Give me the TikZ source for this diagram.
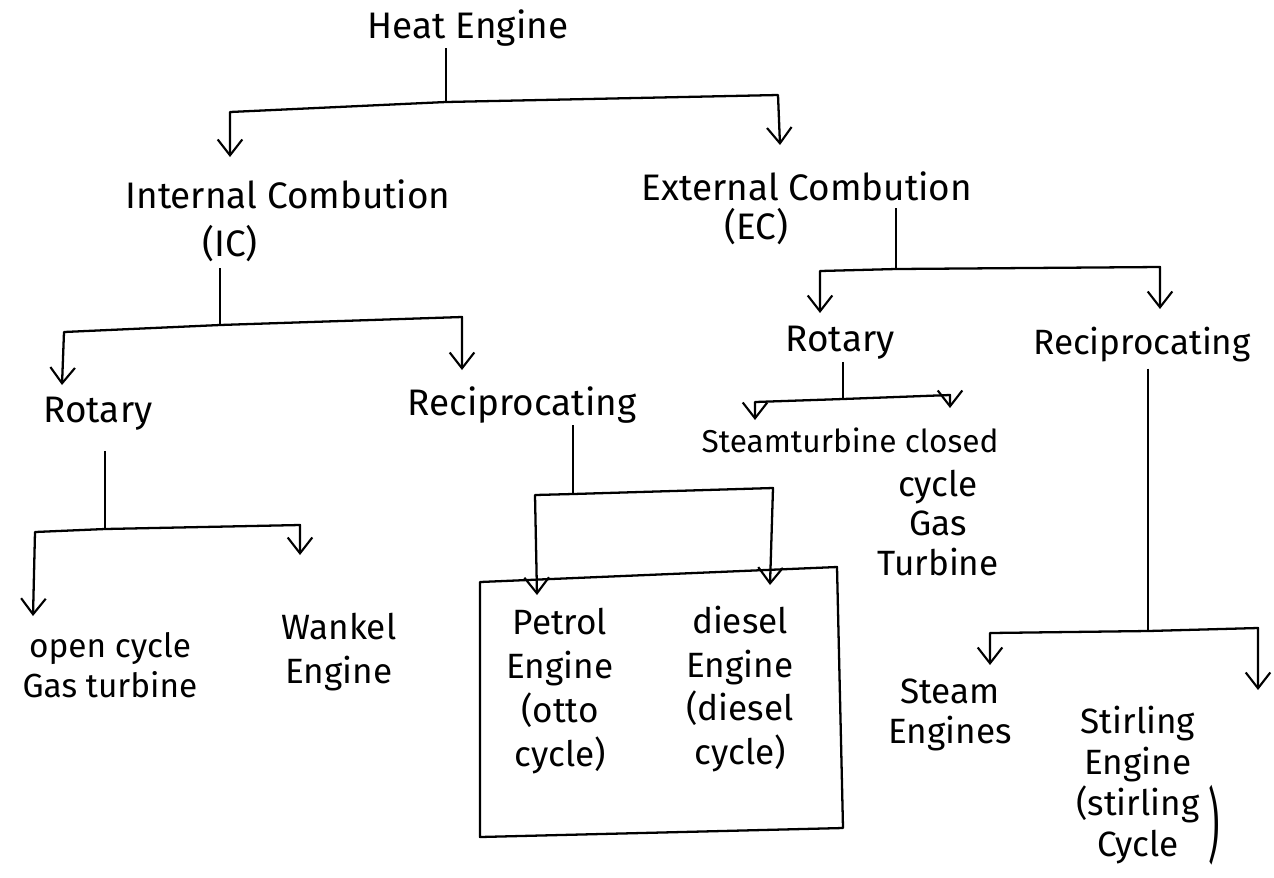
\documentclass[tikz,border=0pt]{standalone}
\usepackage{fontspec}
\setmainfont{Fira Sans}
\usetikzlibrary{arrows.meta}
\begin{document}
\begin{tikzpicture}[x=0.02cm,y=-0.02cm,
  ln/.style={line width=1.3pt,line join=round},
  arr/.style={ln,-{Straight Barb[length=9pt,width=14pt,line width=1.2pt]}},
  txt/.style={font=\fontsize{21}{22}\selectfont,align=center,inner sep=1pt}]
\useasboundingbox (0,0) rectangle (1274,877);
% texts
\node[txt] (he) at (468,28) {Heat Engine};
\node[txt] (ic) at (288,194) {Internal Combution};
\node[txt] (icx) at (230,244) {(IC)};
\node[txt] (ec) at (807,186) {External Combution};
\node[txt] (ecx) at (756,227) {(EC)};
\node[txt] (icrot) at (98,414) {Rotary};
\node[txt] (icrec) at (522,405) {Reciprocating};
\node[txt] (ecrot) at (840,343) {Rotary};
\node[txt,font=\fontsize{20}{21}\selectfont] (ecrec) at (1142,345) {Reciprocating};
\node[txt,font=\fontsize{18}{19}\selectfont] (st) at (850,440) {Steamturbine closed};
\node[txt,font=\fontsize{20}{22.5}\selectfont] (ccg) at (938,523) {cycle\\Gas\\Turbine};
\node[txt,font=\fontsize{19}{22.5}\selectfont] (oc) at (110,665) {open cycle\\Gas turbine};
\node[txt,font=\fontsize{20}{25}\selectfont] (wk) at (339,652) {Wankel\\Engine};
\node[txt,font=\fontsize{20}{25}\selectfont] (pe) at (560,691) {Petrol\\Engine\\(otto\\cycle)};
\node[txt,font=\fontsize{20}{25}\selectfont] (de) at (740,689) {diesel\\Engine\\(diesel\\cycle)};
\node[txt,font=\fontsize{20}{22.5}\selectfont] (se) at (950,715) {Steam\\Engines};
\node[txt,font=\fontsize{20}{23.5}\selectfont] (sti) at (1138,785) {Stirling\\Engine\\(stirling\\Cycle};
\node[txt,font=\fontsize{20}{22}\selectfont,yscale=2.3] (brk) at (1214,825) {)};
% junction coordinates
\coordinate (j1) at (446,102);
\coordinate (j1l) at (230,112);
\coordinate (j1r) at (778,95);
\coordinate (e0) at (896,208);
\coordinate (j3) at (896,269);
\coordinate (j3l) at (820,271);
\coordinate (j3r) at (1160,267);
\coordinate (j2) at (220,325);
\coordinate (j2l) at (64,332);
\coordinate (j2r) at (462,317);
\coordinate (j4) at (843,399);
\coordinate (j4l) at (755,402);
\coordinate (j4r) at (950,395);
\coordinate (j5) at (105,529);
\coordinate (j5l) at (35,532);
\coordinate (j5r) at (300,525);
\coordinate (j6) at (573,494);
\coordinate (j6l) at (535,495);
\coordinate (j6r) at (773,488);
\coordinate (j7) at (1148,631);
\coordinate (j7l) at (990,633);
\coordinate (j7r) at (1258,628);
% connectors
\draw[ln] (he.south -| j1) -- (j1);
\draw[arr] (j1) -- (j1l) -- ++(0,45);
\draw[arr] (j1) -- (j1r) -- ++(2,50);
\draw[ln] (icx.south -| j2) ++(0,4) -- (j2);
\draw[arr] (j2) -- (j2l) -- ++(-2,53);
\draw[arr] (j2) -- (j2r) -- ++(0,53);
\draw[ln] (e0) -- (j3);
\draw[arr] (j3) -- (j3l) -- ++(0,42);
\draw[arr] (j3) -- (j3r) -- ++(0,42);
\draw[ln] (ecrot.south -| j4) -- (j4);
\draw[arr] (j4) -- (j4l) -- ++(0,18);
\draw[arr] (j4) -- (j4r) -- ++(0,13);
\draw[ln] (icrot.south -| j5) ++(0,18) -- (j5);
\draw[arr] (j5) -- (j5l) -- ++(-2,84);
\draw[arr] (j5) -- (j5r) -- ++(0,30);
\draw[ln] (icrec.south -| j6) -- (j6);
\draw[arr] (j6) -- (j6l) -- ++(2,100);
\draw[arr] (j6) -- (j6r) -- ++(-3,97);
\draw[ln] (ecrec.south -| j7) ++(0,4) -- (j7);
\draw[arr] (j7) -- (j7l) -- ++(0,32);
\draw[arr] (j7) -- (j7r) -- ++(0,62);
% box round petrol / diesel
\draw[ln] (480,582) -- (837,567) -- (843,828) -- (480,837) -- cycle;
\end{tikzpicture}
\end{document}
